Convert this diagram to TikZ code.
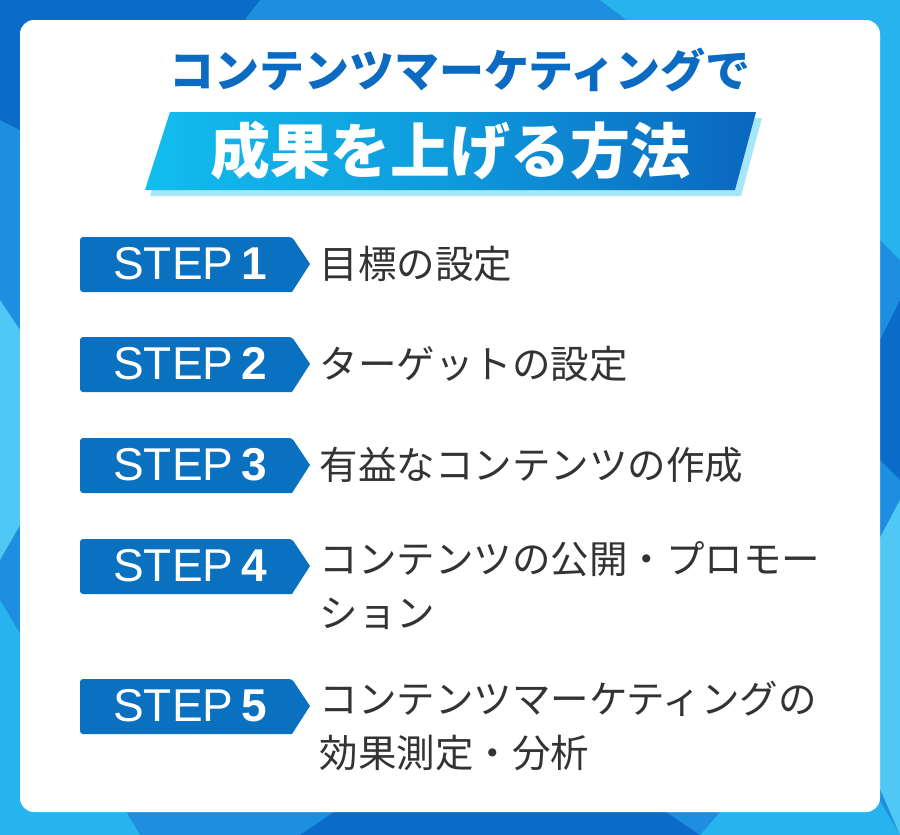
\documentclass[tikz,border=0pt]{standalone}
\usepackage{fontspec}
\setmainfont{Noto Sans CJK JP}
\newfontfamily\stepfont{Liberation Sans}
\usetikzlibrary{shadings}
\definecolor{bgA}{HTML}{1E8FE0}
\definecolor{bgB}{HTML}{0A6CC8}
\definecolor{bgC}{HTML}{27B4EE}
\definecolor{bgD}{HTML}{4FC8F5}
\definecolor{titleblue}{HTML}{0B6BC2}
\definecolor{tagblue}{HTML}{0A70C0}
\definecolor{banL}{HTML}{12BDEF}
\definecolor{banR}{HTML}{0A66BE}
\definecolor{banS}{HTML}{A6E6F8}
\definecolor{txt}{HTML}{333333}
\tikzset{
 tagbox/.style={fill=tagblue},
 tagtext/.style={text=white,font=\stepfont\fontsize{46}{46}\selectfont,anchor=center},
 steptext/.style={text=txt,font=\fontsize{38.5}{54}\selectfont,anchor=west,align=left},
}
\begin{document}
\begin{tikzpicture}[x=1pt,y=-1pt]
\useasboundingbox (0,0) rectangle (900,835);
\fill[bgA] (0,0) rectangle (900,835);
\fill[bgB] (0,0) -- (260,0) -- (120,180) -- (0,120) -- cycle;
\fill[bgC] (600,0) -- (900,0) -- (900,260) -- (760,120) -- cycle;
\fill[bgD] (0,300) -- (80,420) -- (0,560) -- cycle;
\fill[bgC] (0,600) -- (140,835) -- (0,835) -- cycle;
\fill[bgB] (300,835) -- (500,700) -- (700,835) -- cycle;
\fill[bgD] (900,500) -- (820,650) -- (900,835) -- cycle;
\fill[bgC] (700,835) -- (820,700) -- (900,835) -- cycle;
\fill[bgB] (900,300) -- (840,420) -- (900,480) -- cycle;
\fill[white,rounded corners=14pt] (20,20) rectangle (880,812);
\node[text=titleblue,font=\bfseries\fontsize{45}{45}\selectfont] (title) at (460,70) {コンテンツマーケティングで};
\fill[banS] (176,118) -- (762,118) -- (741,196) -- (150,196) -- cycle;
\shade[left color=banL,right color=banR,middle color=banL!60!banR] (170,112) -- (756,112) -- (735,190) -- (145,190) -- cycle;
\node[text=white,font=\bfseries\fontsize{60}{60}\selectfont] (banner) at (450,151) {成果を上げる方法};
\foreach \i/\y in {1/264,2/364,3/465,4/566,5/706}{
 \fill[tagblue,rounded corners=3pt] (80,\y-27) -- (292,\y-27) [sharp corners]-- (310,\y) -- (292,\y+28) [rounded corners=3pt]-- (80,\y+28) -- cycle;
 \node[tagtext] (tag\i) at (190,\y) {STEP\,\textbf{\i}};
}
\node[steptext] (s1) at (316,264) {目標の設定};
\node[steptext] (s2) at (316,364) {ターゲットの設定};
\node[steptext] (s3) at (316,465) {有益なコンテンツの作成};
\node[steptext,anchor=north west] (s4) at (316,538) {コンテンツの公開・プロモー\\ション};
\node[steptext,anchor=north west] (s5) at (316,678) {コンテンツマーケティングの\\効果測定・分析};
\end{tikzpicture}
\end{document}
